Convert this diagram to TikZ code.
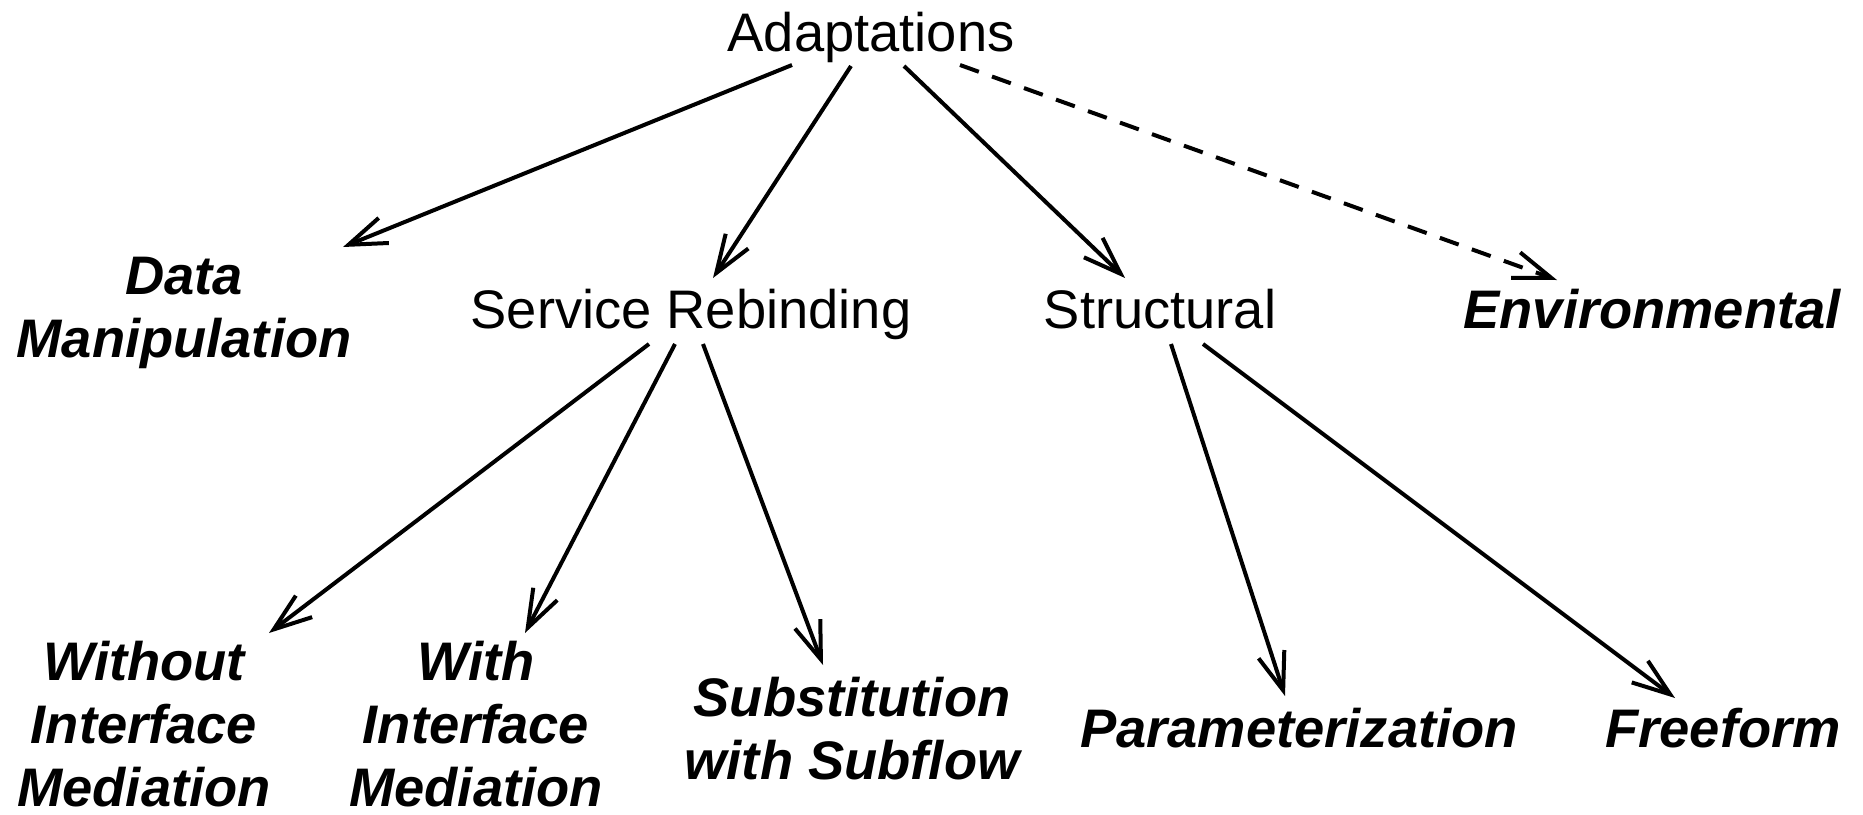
\documentclass[tikz,border=0pt]{standalone}
\usepackage{fontspec}
\setmainfont{Liberation Sans}
\usetikzlibrary{arrows.meta}
\begin{document}
\begin{tikzpicture}[x=0.5pt,y=-0.5pt,
  lbl/.style={anchor=north,inner sep=0pt,align=center,font=\fontsize{27.15pt}{31.5pt}\selectfont},
  cat/.style={lbl,font=\fontsize{27.15pt}{31.5pt}\selectfont\bfseries\itshape},
  arr/.style={line width=2pt,-{Straight Barb[length=19pt,width=13.5pt]}},
  dsh/.style={arr,dash pattern=on 10pt off 7pt}]
\useasboundingbox (0,0) rectangle (1863,814);
\node[lbl] (ad) at (871,12) {Adaptations};
\node[cat] (dm) at (184,257) {Data\\Manipulation};
\node[lbl] (sr) at (691,289) {Service Rebinding};
\node[lbl] (st) at (1160,289) {Structural};
\node[cat] (env) at (1652,289) {Environmental};
\node[cat] (wo) at (144,641) {Without\\Interface\\Mediation};
\node[cat] (wi) at (476,641) {With\\Interface\\Mediation};
\node[cat] (sub) at (852,677) {Substitution\\with Subflow};
\node[cat] (pa) at (1299,708) {Parameterization};
\node[cat] (ff) at (1723,708) {Freeform};
\draw[arr] ([shift={(-79,53)}]ad.north) -- ([shift={(159,-10)}]dm.north);
\draw[arr] ([shift={(-20,54)}]ad.north) -- ([shift={(22,-11)}]sr.north);
\draw[arr] ([shift={(33,54)}]ad.north) -- ([shift={(-35,-11)}]st.north);
\draw[dsh] ([shift={(89,53)}]ad.north) -- ([shift={(-95,-9)}]env.north);
\draw[arr] ([shift={(-42,55)}]sr.north) -- ([shift={(125,-8)}]wo.north);
\draw[arr] ([shift={(-16,55)}]sr.north) -- ([shift={(49,-8)}]wi.north);
\draw[arr] ([shift={(12,55)}]sr.north) -- ([shift={(-29,-12)}]sub.north);
\draw[arr] ([shift={(11,55)}]st.north) -- ([shift={(-14,-12)}]pa.north);
\draw[arr] ([shift={(43,55)}]st.north) -- ([shift={(-48,-10)}]ff.north);
\end{tikzpicture}
\end{document}
